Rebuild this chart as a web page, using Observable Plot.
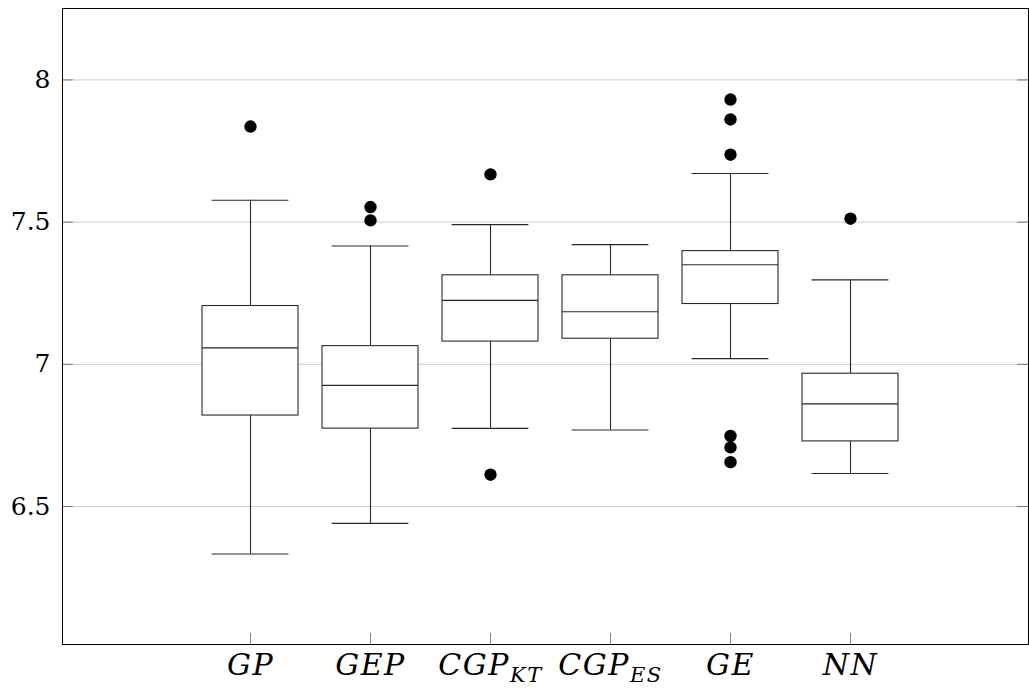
<!DOCTYPE html>
<html>
<head>
<meta charset="utf-8">
<script src="https://cdn.jsdelivr.net/npm/d3@7"></script>
<script src="https://cdn.jsdelivr.net/npm/@observablehq/plot@0.6"></script>
<style>
  html, body { margin: 0; padding: 0; background: #fff; }
  #chart svg { display: block; }
  #chart svg g.yax text { font-family: "DejaVu Serif", serif !important; }
  #chart svg g.xax text, #chart svg g.xax tspan { font-family: "DejaVu Serif", serif !important; }
</style>
</head>
<body>
<div id="chart"></div>
<script>
// ---- data ----
const names = ["GP", "GEP", "CGP", "CGP", "GE", "NN"];
const subs  = ["", "", "KT", "ES", "", ""];
const positions = [1, 2, 3, 4, 5, 6];
const lowerWhisker = [6.333, 6.441, 6.775, 6.769, 7.020, 6.616];
const q1           = [6.820, 6.774, 7.080, 7.090, 7.212, 6.729];
const median       = [7.058, 6.926, 7.225, 7.185, 7.350, 6.861];
const q3           = [7.205, 7.064, 7.313, 7.313, 7.398, 6.967];
const upperWhisker = [7.577, 7.416, 7.491, 7.421, 7.671, 7.297];
const outlierGroup = [1, 2, 2, 3, 3, 5, 5, 5, 5, 5, 5, 6];
const outlierValue = [7.836, 7.553, 7.506, 7.668, 6.612, 7.931, 7.861, 7.737, 6.748, 6.708, 6.656, 7.512];
const yTicks = [6.5, 7, 7.5, 8];

// ---- derived tables ----
const boxes = positions.map((p, i) => ({
  p, lo: lowerWhisker[i], q1: q1[i], med: median[i], q3: q3[i], hi: upperWhisker[i]
}));
const outliers = outlierGroup.map((p, i) => ({p, v: outlierValue[i]}));

const xDomain = [1 - 188 / 120, 1 - 188 / 120 + 966 / 120];
const yDomain = [6.015, 8.251];
const boxHalf = 0.4, capHalf = 0.32;
const ink = "#2a2a2a";

const chart = Plot.plot({
  width: 1029,
  height: 688,
  marginLeft: 62,
  marginRight: 1,
  marginTop: 8,
  marginBottom: 44,
  style: {background: "#fff"},
  x: {domain: xDomain, axis: null, label: null},
  y: {domain: yDomain, axis: null, label: null},
  marks: [
    Plot.ruleY(yTicks, {stroke: "#cfcfcf", strokeWidth: 1}),
    Plot.ruleY(yTicks, {x1: xDomain[0], x2: xDomain[0] + 0.09, stroke: "#777"}),
    Plot.ruleY(yTicks, {x1: xDomain[1] - 0.09, x2: xDomain[1], stroke: "#777"}),
    Plot.ruleX(positions, {y1: yDomain[0], y2: yDomain[0] + 0.039, stroke: "#888"}),
    Plot.ruleX(boxes, {x: "p", y1: "q3", y2: "hi", stroke: ink, strokeWidth: 1.1}),
    Plot.ruleX(boxes, {x: "p", y1: "lo", y2: "q1", stroke: ink, strokeWidth: 1.1}),
    Plot.ruleY(boxes, {y: "hi", x1: d => d.p - capHalf, x2: d => d.p + capHalf, stroke: ink, strokeWidth: 1.1}),
    Plot.ruleY(boxes, {y: "lo", x1: d => d.p - capHalf, x2: d => d.p + capHalf, stroke: ink, strokeWidth: 1.1}),
    Plot.rect(boxes, {x1: d => d.p - boxHalf, x2: d => d.p + boxHalf, y1: "q1", y2: "q3", fill: "#fff", stroke: ink, strokeWidth: 1.1}),
    Plot.ruleY(boxes, {y: "med", x1: d => d.p - boxHalf, x2: d => d.p + boxHalf, stroke: ink, strokeWidth: 1.1}),
    Plot.dot(outliers, {x: "p", y: "v", r: 6.2, fill: "#000", stroke: "none"}),
    Plot.frame({stroke: "#000", strokeWidth: 1}),
    Plot.axisY({
      ticks: yTicks, tickSize: 0, tickPadding: 12, tickFormat: d => String(d), label: null,
      fontSize: 25, fill: "#000"
    }),
    Plot.axisX({
      ticks: positions, tickSize: 0, tickPadding: 9, tickFormat: d => names[d - 1], label: null,
      fontSize: 30, fontStyle: "italic", fill: "#000"
    })
  ]
});

const labels = chart.querySelectorAll('g[aria-label="x-axis tick label"] text');
labels.forEach((t, i) => {
  t.textContent = "";
  const main = document.createElementNS("http://www.w3.org/2000/svg", "tspan");
  main.textContent = names[i];
  t.appendChild(main);
  if (subs[i]) {
    const s = document.createElementNS("http://www.w3.org/2000/svg", "tspan");
    s.textContent = subs[i];
    s.setAttribute("font-size", "21");
    s.setAttribute("dy", "7");
    t.appendChild(s);
  }
  t.setAttribute("letter-spacing", "1.5");
});
chart.querySelectorAll('g[aria-label="y-axis tick label"]').forEach(g => g.classList.add("yax"));
chart.querySelectorAll('g[aria-label="x-axis tick label"]').forEach(g => g.classList.add("xax"));

document.getElementById("chart").appendChild(chart);
</script>
</body>
</html>
